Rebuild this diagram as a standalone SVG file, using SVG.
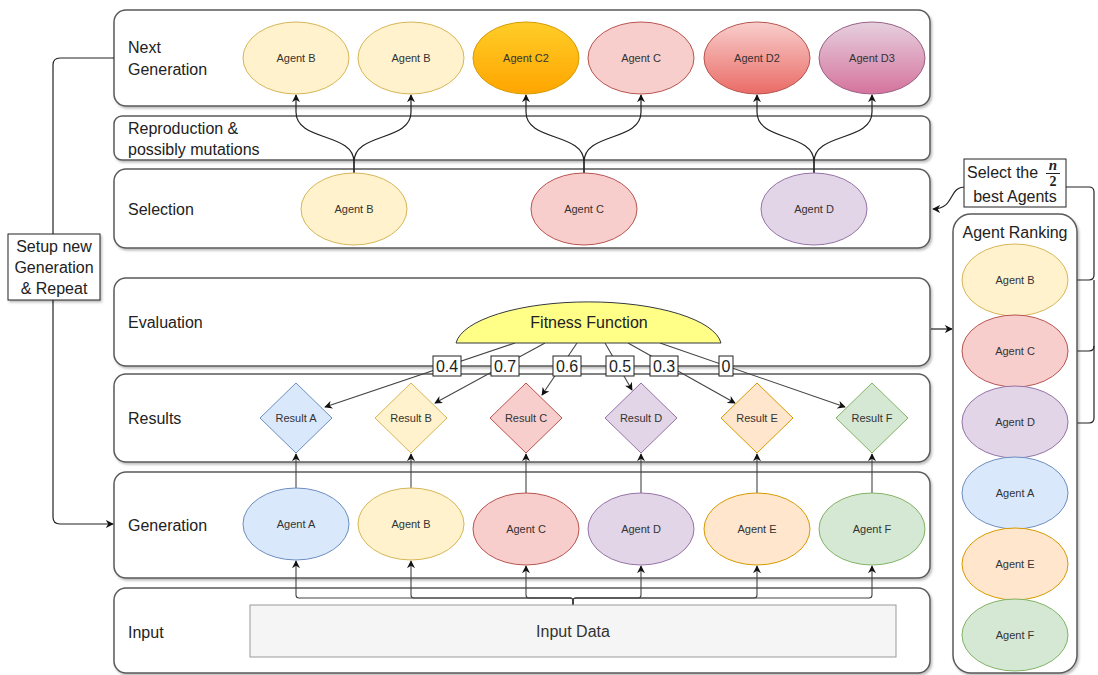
<svg xmlns="http://www.w3.org/2000/svg" width="1098" height="675" viewBox="0 0 1098 675">
<style>
.row{fill:#fff;stroke:#5a5a5a;stroke-width:1.5;filter:url(#sh)}
.lbl{font-family:"Liberation Sans",Arial,sans-serif;font-size:16px;fill:#222}
.nt{font-family:"Liberation Sans",Arial,sans-serif;font-size:11px;fill:#333;text-anchor:middle;dominant-baseline:central}
.e{fill:none;stroke:#222;stroke-width:1.2}
.ev{fill:none;stroke:#444;stroke-width:1.1}
.yb{fill:#fff2cc;stroke:#d6b656}
.rc{fill:#f8cecc;stroke:#b85450}
.pd{fill:#e1d5e7;stroke:#9673a6}
.ba{fill:#dae8fc;stroke:#6c8ebf}
.oe{fill:#ffe6cc;stroke:#d79b00}
.gf{fill:#d5e8d4;stroke:#82b366}
.box{fill:#fff;stroke:#222;stroke-width:1}
.bt{font-family:"Liberation Sans",Arial,sans-serif;font-size:16px;fill:#222;text-anchor:middle;dominant-baseline:central}
</style>
<defs>
<filter id="sh" x="-5%" y="-5%" width="110%" height="120%"><feDropShadow dx="1.5" dy="2" stdDeviation="1" flood-color="#000" flood-opacity="0.25"/></filter>
<marker id="ar" viewBox="0 0 10 10" refX="9" refY="5" markerWidth="8" markerHeight="8" orient="auto" markerUnits="userSpaceOnUse"><path d="M0,0 L10,5 L0,10 L3,5 Z" fill="#111"/></marker>
<linearGradient id="gC2" x1="0" y1="0" x2="0" y2="1"><stop offset="0" stop-color="#ffcd28"/><stop offset="1" stop-color="#ffa500"/></linearGradient>
<linearGradient id="gD2" x1="0" y1="0" x2="0" y2="1"><stop offset="0" stop-color="#f8cecc"/><stop offset="1" stop-color="#ea6b66"/></linearGradient>
<linearGradient id="gD3" x1="0" y1="0" x2="0" y2="1"><stop offset="0" stop-color="#e6d0de"/><stop offset="1" stop-color="#d5739d"/></linearGradient>
</defs>

<!-- rows -->
<g id="row-next"><rect class="row" x="114" y="10" width="816" height="96" rx="12"/><text class="lbl" x="128" y="53">Next</text><text class="lbl" x="128" y="75">Generation</text></g>
<g id="row-repro"><rect class="row" x="114" y="116" width="816" height="44" rx="8"/><text class="lbl" x="128" y="134">Reproduction &amp;</text><text class="lbl" x="128" y="155">possibly mutations</text></g>
<g id="row-selection"><rect class="row" x="114" y="169" width="816" height="79" rx="12"/><text class="lbl" x="128" y="215">Selection</text></g>
<g id="row-eval"><rect class="row" x="114" y="278" width="816" height="88" rx="12"/><text class="lbl" x="128" y="328">Evaluation</text></g>
<g id="row-results"><rect class="row" x="114" y="374" width="816" height="88" rx="12"/><text class="lbl" x="128" y="424">Results</text></g>
<g id="row-generation"><rect class="row" x="114" y="472" width="816" height="106" rx="12"/><text class="lbl" x="128" y="531">Generation</text></g>
<g id="row-input"><rect class="row" x="114" y="588" width="816" height="85" rx="12"/><text class="lbl" x="128" y="638">Input</text></g>

<!-- connectors -->
<g id="connectors">
<path class="e" marker-end="url(#ar)" d="M354,173 L354,162 C354,132 296,142 296,112 L296,95"/>
<path class="e" marker-end="url(#ar)" d="M354,173 L354,162 C354,132 411,142 411,112 L411,95"/>
<path class="e" marker-end="url(#ar)" d="M584,173 L584,162 C584,132 526,142 526,112 L526,95"/>
<path class="e" marker-end="url(#ar)" d="M584,173 L584,162 C584,132 641,142 641,112 L641,95"/>
<path class="e" marker-end="url(#ar)" d="M814,173 L814,162 C814,132 757,142 757,112 L757,95"/>
<path class="e" marker-end="url(#ar)" d="M814,173 L814,162 C814,132 872,142 872,112 L872,95"/>
<path class="ev" marker-end="url(#ar)" d="M515,343 L325,407"/>
<path class="ev" marker-end="url(#ar)" d="M545,343 L435,403"/>
<path class="ev" marker-end="url(#ar)" d="M577,343 L542,395"/>
<path class="ev" marker-end="url(#ar)" d="M605,343 L632,390"/>
<path class="ev" marker-end="url(#ar)" d="M628,343 L735,403"/>
<path class="ev" marker-end="url(#ar)" d="M660,343 L845,407"/>
<path class="ev" marker-end="url(#ar)" d="M296,488 L296,454"/>
<path class="ev" marker-end="url(#ar)" d="M411,488 L411,454"/>
<path class="ev" marker-end="url(#ar)" d="M526,493 L526,454"/>
<path class="ev" marker-end="url(#ar)" d="M641,493 L641,454"/>
<path class="ev" marker-end="url(#ar)" d="M757,493 L757,454"/>
<path class="ev" marker-end="url(#ar)" d="M872,493 L872,454"/>
<path class="ev" marker-end="url(#ar)" d="M573,605 L573,601 Q573,598 570,598 L299,598 Q296,598 296,595 L296,561"/>
<path class="ev" marker-end="url(#ar)" d="M573,605 L573,601 Q573,598 570,598 L414,598 Q411,598 411,595 L411,561"/>
<path class="ev" marker-end="url(#ar)" d="M573,605 L573,601 Q573,598 570,598 L529,598 Q526,598 526,595 L526,566"/>
<path class="ev" marker-end="url(#ar)" d="M573,605 L573,601 Q573,598 576,598 L638,598 Q641,598 641,595 L641,566"/>
<path class="ev" marker-end="url(#ar)" d="M573,605 L573,601 Q573,598 576,598 L754,598 Q757,598 757,595 L757,566"/>
<path class="ev" marker-end="url(#ar)" d="M573,605 L573,601 Q573,598 576,598 L869,598 Q872,598 872,595 L872,566"/>
<path class="e" marker-end="url(#ar)" d="M931,329 L952,329"/>
<path class="e" d="M1068,280 L1089,280 Q1094,280 1094,275 L1094,192 Q1094,187 1089,187 L1066,187"/>
<path class="e" d="M1068,351 L1089,351 Q1094,351 1094,346 L1094,280"/>
<path class="e" d="M1068,423 L1089,423 Q1094,423 1094,418 L1094,346"/>
<path class="e" marker-end="url(#ar)" d="M965,187 C948,187 955,209 933,209"/>
<path class="e" marker-end="url(#ar)" d="M114,58 L60,58 Q53,58 53,65 L53,517 Q53,524 60,524 L113,524"/>
</g>

<g id="edge-labels">
<g id="lbl-04"><rect class="box" x="433" y="356" width="28" height="20"/><text class="bt" x="447" y="366">0.4</text></g>
<g id="lbl-07"><rect class="box" x="491" y="356" width="28" height="20"/><text class="bt" x="505" y="366">0.7</text></g>
<g id="lbl-06"><rect class="box" x="553" y="356" width="28" height="20"/><text class="bt" x="567" y="366">0.6</text></g>
<g id="lbl-05"><rect class="box" x="606" y="356" width="28" height="20"/><text class="bt" x="620" y="366">0.5</text></g>
<g id="lbl-03"><rect class="box" x="650" y="356" width="28" height="20"/><text class="bt" x="664" y="366">0.3</text></g>
<g id="lbl-0"><rect class="box" x="719" y="356" width="14" height="20"/><text class="bt" x="726" y="366">0</text></g>
<g id="lbl-select"><rect class="box" x="964" y="159" width="102" height="48"/>
<text class="lbl" x="967" y="178">Select the</text>
<text x="1053" y="170" font-family="Liberation Serif,serif" font-style="italic" font-weight="bold" font-size="15" text-anchor="middle" fill="#222">n</text>
<line x1="1046" y1="173.5" x2="1060" y2="173.5" stroke="#222" stroke-width="1"/>
<text x="1053" y="186" font-family="Liberation Serif,serif" font-weight="bold" font-size="14" text-anchor="middle" fill="#222">2</text>
<text class="bt" x="1015" y="196">best Agents</text></g>
<g id="lbl-setup"><rect class="box" x="8" y="234" width="92" height="66" style="filter:url(#sh)"/>
<text class="bt" x="54" y="246">Setup new</text><text class="bt" x="54" y="267">Generation</text><text class="bt" x="54" y="288">&amp; Repeat</text></g>
</g>

<g id="ng-b1"><ellipse class="yb" cx="296" cy="58" rx="53" ry="36"/><text class="nt" x="296" y="58">Agent B</text></g>
<g id="ng-b2"><ellipse class="yb" cx="411" cy="58" rx="53" ry="36"/><text class="nt" x="411" y="58">Agent B</text></g>
<g id="ng-c2"><ellipse cx="526" cy="58" rx="53" ry="36" fill="url(#gC2)" stroke="#d79b00"/><text class="nt" x="526" y="58">Agent C2</text></g>
<g id="ng-c"><ellipse class="rc" cx="641" cy="58" rx="53" ry="36"/><text class="nt" x="641" y="58">Agent C</text></g>
<g id="ng-d2"><ellipse cx="757" cy="58" rx="53" ry="36" fill="url(#gD2)" stroke="#b85450"/><text class="nt" x="757" y="58">Agent D2</text></g>
<g id="ng-d3"><ellipse cx="872" cy="58" rx="53" ry="36" fill="url(#gD3)" stroke="#996185"/><text class="nt" x="872" y="58">Agent D3</text></g>

<g id="sel-b"><ellipse class="yb" cx="354" cy="209" rx="53" ry="36"/><text class="nt" x="354" y="209">Agent B</text></g>
<g id="sel-c"><ellipse class="rc" cx="584" cy="209" rx="53" ry="36"/><text class="nt" x="584" y="209">Agent C</text></g>
<g id="sel-d"><ellipse class="pd" cx="814" cy="209" rx="53" ry="36"/><text class="nt" x="814" y="209">Agent D</text></g>

<g id="fitness"><path d="M456,343 A133,45 0 0 1 721,343 Z" fill="#ffff88" stroke="#36393d" stroke-width="1"/><text class="bt" x="589" y="322">Fitness Function</text></g>

<g id="res-a"><path class="ba" d="M296,383 L332,418 L296,453 L260,418 Z"/><text class="nt" x="296" y="418">Result A</text></g>
<g id="res-b"><path class="yb" d="M411,383 L447,418 L411,453 L375,418 Z"/><text class="nt" x="411" y="418">Result B</text></g>
<g id="res-c"><path class="rc" d="M526,383 L562,418 L526,453 L490,418 Z"/><text class="nt" x="526" y="418">Result C</text></g>
<g id="res-d"><path class="pd" d="M641,383 L677,418 L641,453 L605,418 Z"/><text class="nt" x="641" y="418">Result D</text></g>
<g id="res-e"><path class="oe" d="M757,383 L793,418 L757,453 L721,418 Z"/><text class="nt" x="757" y="418">Result E</text></g>
<g id="res-f"><path class="gf" d="M872,383 L908,418 L872,453 L836,418 Z"/><text class="nt" x="872" y="418">Result F</text></g>

<g id="gen-a"><ellipse class="ba" cx="296" cy="524" rx="53" ry="36"/><text class="nt" x="296" y="524">Agent A</text></g>
<g id="gen-b"><ellipse class="yb" cx="411" cy="524" rx="53" ry="36"/><text class="nt" x="411" y="524">Agent B</text></g>
<g id="gen-c"><ellipse class="rc" cx="526" cy="529" rx="53" ry="36"/><text class="nt" x="526" y="529">Agent C</text></g>
<g id="gen-d"><ellipse class="pd" cx="641" cy="529" rx="53" ry="36"/><text class="nt" x="641" y="529">Agent D</text></g>
<g id="gen-e"><ellipse class="oe" cx="757" cy="529" rx="53" ry="36"/><text class="nt" x="757" y="529">Agent E</text></g>
<g id="gen-f"><ellipse class="gf" cx="872" cy="529" rx="53" ry="36"/><text class="nt" x="872" y="529">Agent F</text></g>

<g id="input-data"><rect x="250" y="605" width="646" height="52" fill="#f5f5f5" stroke="#999"/><text class="bt" x="573" y="631" style="fill:#333">Input Data</text></g>

<g id="ranking"><rect class="row" x="953" y="214" width="124" height="459" rx="18"/><text class="bt" x="1015" y="232">Agent Ranking</text></g>
<g id="rk-b"><ellipse class="yb" cx="1015" cy="280" rx="53" ry="36"/><text class="nt" x="1015" y="280">Agent B</text></g>
<g id="rk-c"><ellipse class="rc" cx="1015" cy="351" rx="53" ry="36"/><text class="nt" x="1015" y="351">Agent C</text></g>
<g id="rk-d"><ellipse class="pd" cx="1015" cy="422" rx="53" ry="36"/><text class="nt" x="1015" y="422">Agent D</text></g>
<g id="rk-a"><ellipse class="ba" cx="1015" cy="493" rx="53" ry="36"/><text class="nt" x="1015" y="493">Agent A</text></g>
<g id="rk-e"><ellipse class="oe" cx="1015" cy="564" rx="53" ry="36"/><text class="nt" x="1015" y="564">Agent E</text></g>
<g id="rk-f"><ellipse class="gf" cx="1015" cy="635" rx="53" ry="36"/><text class="nt" x="1015" y="635">Agent F</text></g>
</svg>
